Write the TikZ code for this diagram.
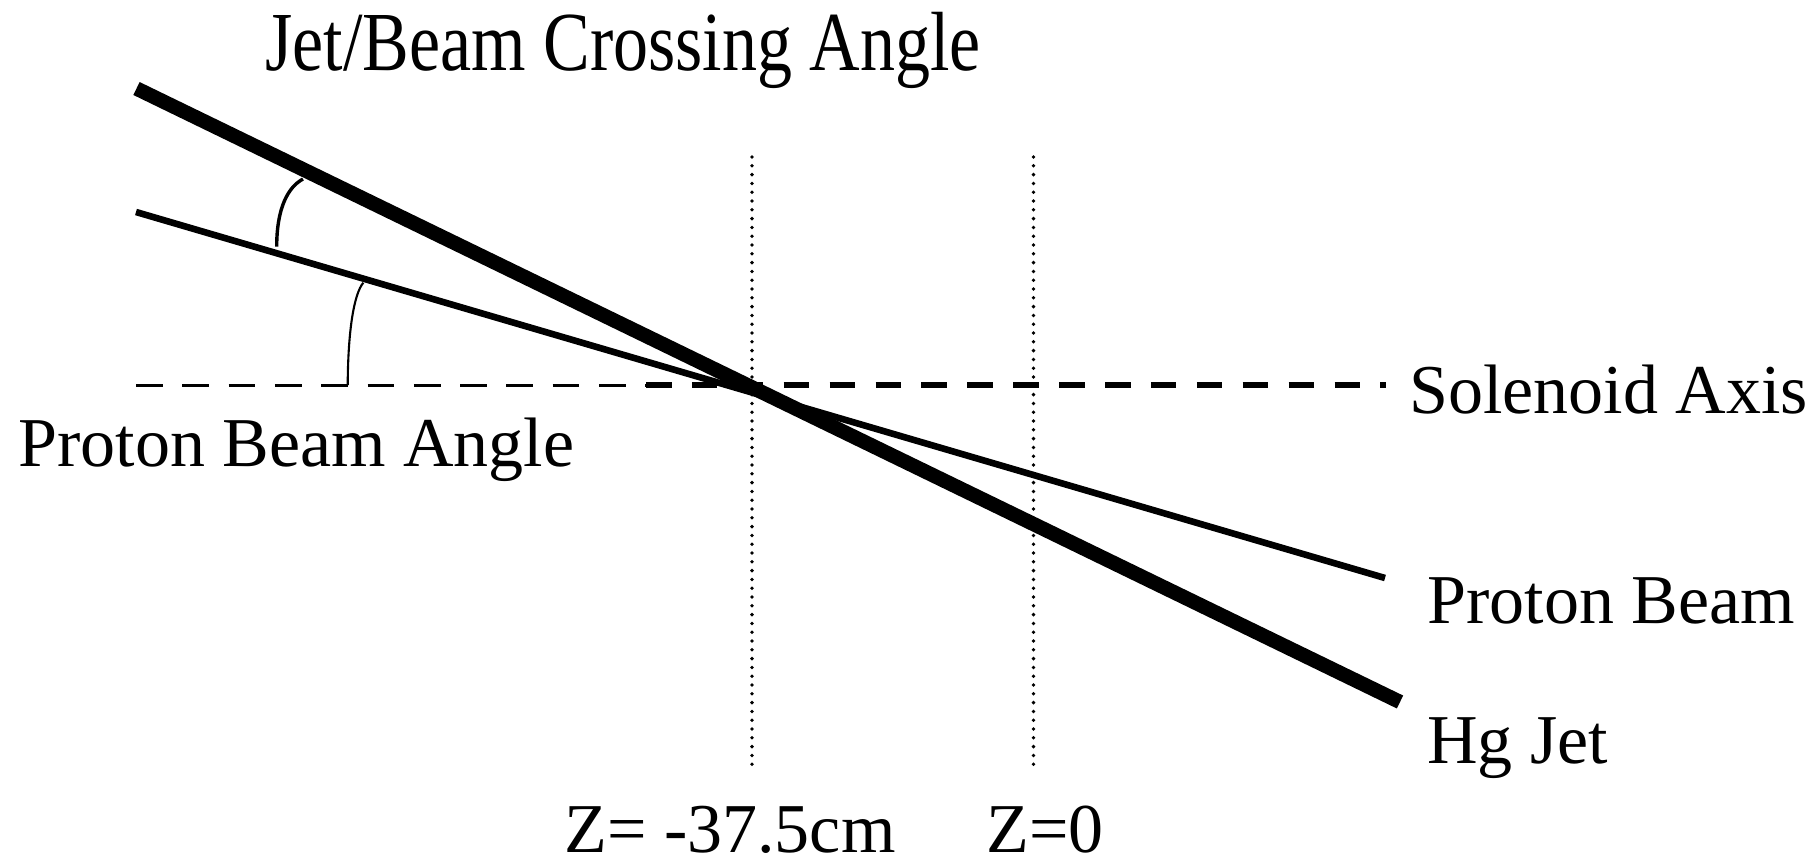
\documentclass[tikz,border=0pt]{standalone}
\usepackage{fontspec}
\setmainfont{Liberation Serif}
\begin{document}
\begin{tikzpicture}[x=0.5pt,y=-0.5pt,
  lbl/.style={anchor=base west, inner sep=0pt, text depth=0pt, font=\fontsize{35pt}{42pt}\selectfont},
  jetline/.style={line width=7.2pt},
  beamline/.style={line width=3.3pt},
  thinaxis/.style={line width=1.5pt, dash pattern=on 13.35pt off 9.8pt},
  thickaxis/.style={line width=2.75pt, dash pattern=on 12.75pt off 10.2pt},
  zline/.style={line width=1.9pt, line cap=round, dash pattern=on 0pt off 4.4pt},
  anglearc/.style={line width=1.7pt},
  anglearcthin/.style={line width=1.05pt}]
\useasboundingbox (0,0) rectangle (1812,859);
% coordinates
\coordinate (axA) at (136,385);
\coordinate (axM) at (646,385);
\coordinate (axB) at (1386,385);
\coordinate (zaT) at (752,157);
\coordinate (zaB) at (752,767);
\coordinate (zbT) at (1033.5,157);
\coordinate (zbB) at (1033.5,767);
\coordinate (jetA) at (136.5,88.5);
\coordinate (jetB) at (1400,702);
\coordinate (pA) at (136,212);
\coordinate (pB) at (1385,578);
\coordinate (c1) at (303,179);
\coordinate (c2) at (276.7,246.7);
\coordinate (b1) at (363.3,282.7);
\coordinate (b2) at (347.7,385);
% solenoid axis
\draw[thinaxis] (axA) -- (axM);
\draw[thickaxis] (axM) -- (axB);
% Z positions
\draw[zline] (zaT) -- (zaB);
\draw[zline] (zbT) -- (zbB);
% beams
\draw[beamline] (pA) -- (pB);
\draw[jetline] (jetA) -- (jetB);
% angle arcs
\draw[anglearc] (c1) .. controls (288,187) and (276.7,208) .. (c2);
\draw[anglearcthin] (b1) .. controls (354,294) and (348,330) .. (b2);
% labels
\node[lbl] (title) at (265,70.7) {\scalebox{1}[1.2]{Jet/Beam Crossing Angle}};
\node[lbl] (pba) at (18,466) {Proton Beam Angle};
\node[lbl] (sol) at (1409,413) {Solenoid Axis};
\node[lbl] (pb) at (1427,623) {Proton Beam};
\node[lbl] (hg) at (1427,763) {Hg Jet};
\node[lbl] (z1) at (564,852) {Z= -37.5cm};
\node[lbl] (z0) at (986,852) {Z=0};
\end{tikzpicture}
\end{document}
